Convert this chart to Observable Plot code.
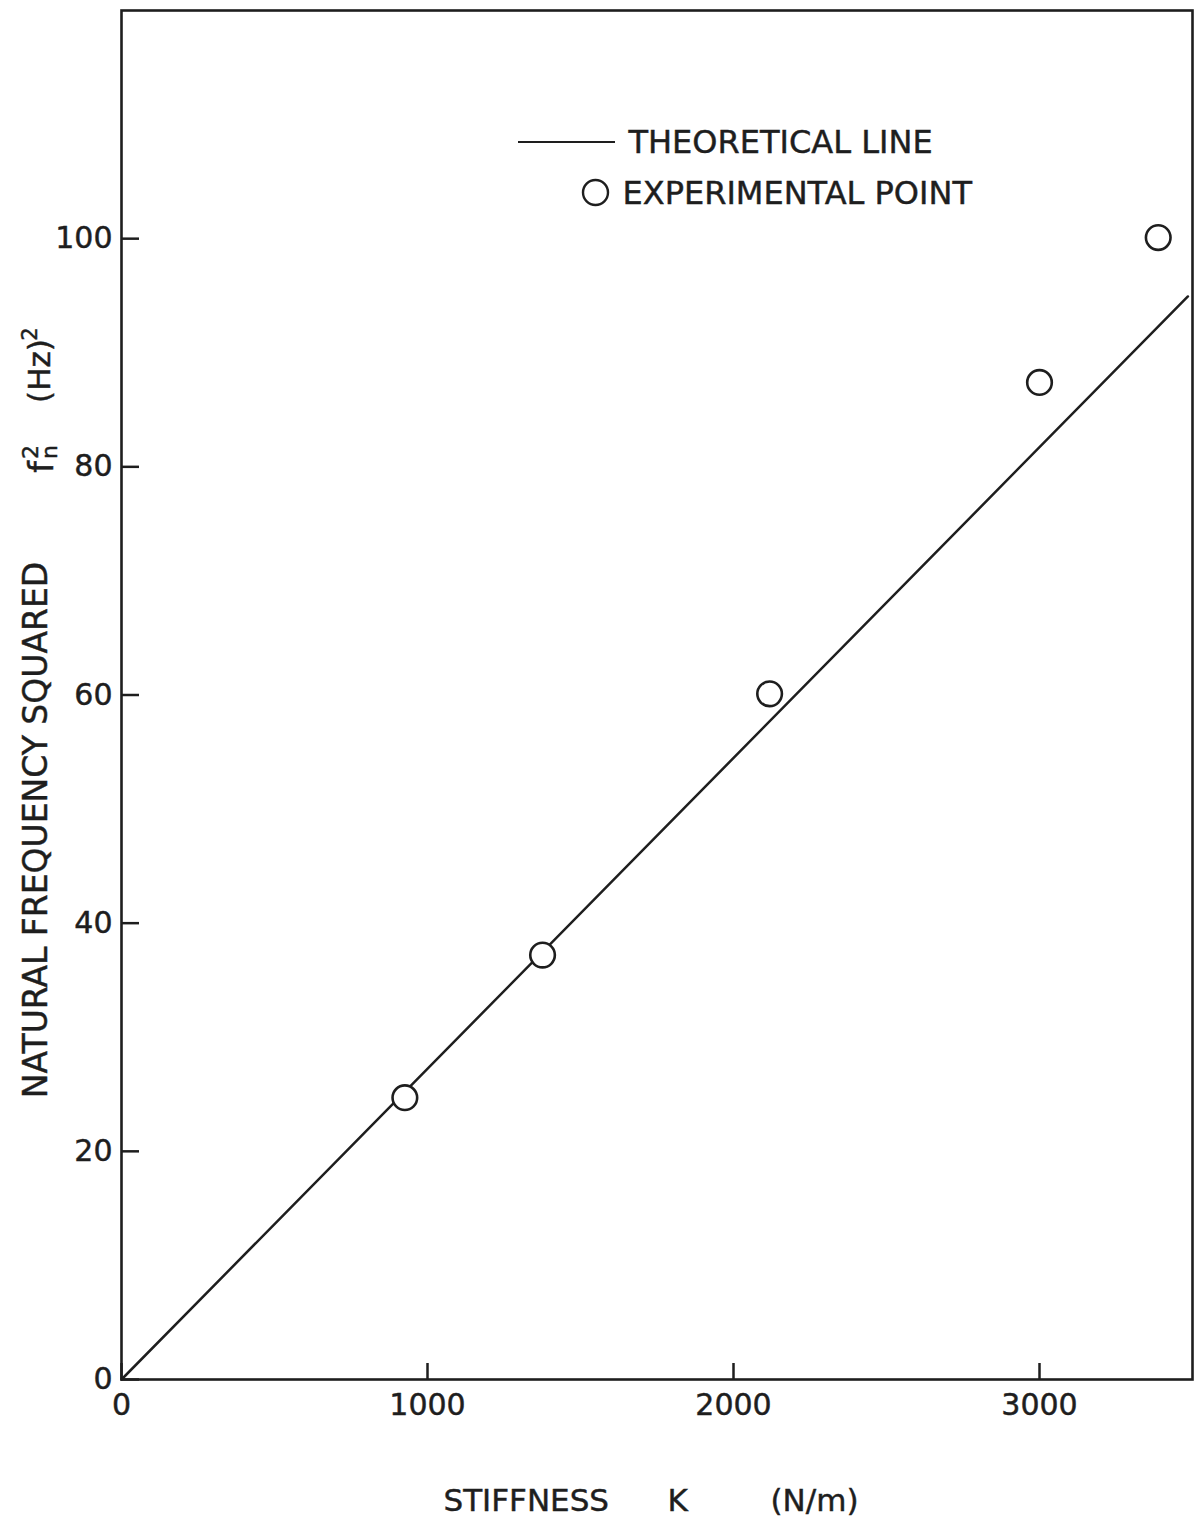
<!DOCTYPE html>
<html>
<head>
<meta charset="utf-8">
<script src="https://cdn.jsdelivr.net/npm/d3@7"></script>
<script src="https://cdn.jsdelivr.net/npm/@observablehq/plot@0.6"></script>
<style>
  html, body { margin: 0; padding: 0; background: #fff; }
  #chart svg .tick line,
  #chart svg g[aria-label$="tick"] path { stroke-width: 2.5px; }
  #chart svg text { stroke: #1e1e1e; stroke-width: 0.45px; }
</style>
</head>
<body>
<div id="chart"></div>
<script>
// Measured natural frequency squared against spring stiffness
const stiffness = [926, 1376, 2118, 3000, 3388];        // K, N/m
const freqSquared = [24.7, 37.2, 60.1, 87.4, 100.1];    // f_n^2, Hz^2

// Theoretical line f_n^2 = K / (4π² m)
const theoryStiffness = [0, 3485];
const theorySlope = 0.02724;                             // Hz^2 per N/m

const xTicks = [0, 1000, 2000, 3000];
const yTicks = [0, 20, 40, 60, 80, 100];

const ink = "#1e1e1e";
const font = "DejaVu Sans";

const points = stiffness.map((k, i) => ({k, f2: freqSquared[i]}));
const theory = theoryStiffness.map(k => ({k, f2: k * theorySlope}));

// legend line sample, drawn relative to the plot frame
const legendLine = (index, scales, values, dims) => {
  const g = d3.create("svg:g");
  g.append("line")
    .attr("x1", dims.marginLeft + 397)
    .attr("x2", dims.marginLeft + 494)
    .attr("y1", dims.marginTop + 132)
    .attr("y2", dims.marginTop + 132)
    .attr("stroke", ink)
    .attr("stroke-width", 2.2);
  return g.node();
};

const label = (t, opts) => Plot.text([t], {
  text: d => d, fill: ink, fontFamily: font, lineAnchor: "middle", ...opts
});

const chart = Plot.plot({
  width: 1195,
  height: 1520,
  marginLeft: 121,
  marginRight: 3,
  marginTop: 10,
  marginBottom: 141,
  style: {background: "#fff", color: ink, fontFamily: font, fontSize: "30px"},
  x: {domain: [0, 3500], ticks: xTicks, tickFormat: d => String(d), tickSize: -16, tickPadding: 30, label: null},
  y: {domain: [0, 120], ticks: yTicks, tickFormat: d => String(d), tickSize: -18, tickPadding: 27, label: null},
  marks: [
    Plot.frame({stroke: ink, strokeWidth: 2.6}),
    Plot.line(theory, {x: "k", y: "f2", stroke: ink, strokeWidth: 2.5}),
    Plot.dot(points, {x: "k", y: "f2", r: 12.3, stroke: ink, strokeWidth: 2.6, fill: "#fff"}),

    // legend
    legendLine,
    label("THEORETICAL LINE", {frameAnchor: "top-left", textAnchor: "start", dx: 507, dy: 132, fontSize: 32}),
    Plot.dot([0], {frameAnchor: "top-left", dx: 474, dy: 182, r: 12.5, stroke: ink, strokeWidth: 2.4, fill: "none"}),
    label("EXPERIMENTAL POINT", {frameAnchor: "top-left", textAnchor: "start", dx: 501, dy: 183, fontSize: 32}),

    // x-axis title
    label("STIFFNESS", {frameAnchor: "bottom-left", textAnchor: "start", dx: 322, dy: 122, fontSize: 31}),
    label("K", {frameAnchor: "bottom-left", textAnchor: "start", dx: 546, dy: 122, fontSize: 31}),
    label("(N/m)", {frameAnchor: "bottom-left", textAnchor: "start", dx: 649, dy: 122, fontSize: 31}),

    // y-axis title, read bottom to top
    label("NATURAL FREQUENCY SQUARED", {frameAnchor: "left", textAnchor: "middle", rotate: -90, dx: -85, dy: 135, fontSize: 33}),
    label("f", {frameAnchor: "left", textAnchor: "middle", rotate: -90, dx: -79, dy: -228, fontSize: 33}),
    label("2", {frameAnchor: "left", textAnchor: "middle", rotate: -90, dx: -91, dy: -243, fontSize: 22}),
    label("n", {frameAnchor: "left", textAnchor: "middle", rotate: -90, dx: -72, dy: -243, fontSize: 22}),
    label("(Hz)", {frameAnchor: "left", textAnchor: "middle", rotate: -90, dx: -81, dy: -324, fontSize: 31}),
    label("2", {frameAnchor: "left", textAnchor: "middle", rotate: -90, dx: -91, dy: -361, fontSize: 21})
  ]
});

document.getElementById("chart").appendChild(chart);
</script>
</body>
</html>
